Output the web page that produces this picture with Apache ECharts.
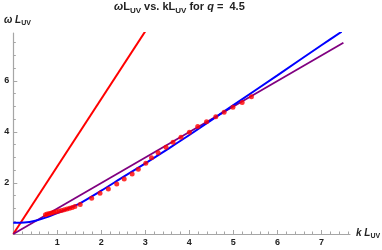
<!DOCTYPE html>
<html>
<head>
<meta charset="utf-8">
<script src="https://cdn.jsdelivr.net/npm/echarts@6/dist/echarts.min.js"></script>
<style>html,body{margin:0;padding:0;background:#fff}#c{width:382px;height:250px}</style>
</head>
<body>
<div id="c"></div>
<script>
// ---- data ----
const xTickValues = [1, 2, 3, 4, 5, 6, 7];
const yTickValues = [2, 4, 6];
const redLineX = [0, 3.0];
const redLineY = [0, 7.95];
const purpleLineX = [0, 7.5];
const purpleLineY = [0, 7.5];
const blueX = [0, 0.25, 0.5, 0.75, 1.0, 1.25, 1.5, 2.0, 2.5, 3.0, 3.5, 4.0, 5.0, 6.0, 7.0, 7.46];
const blueY = [0.44, 0.45, 0.52, 0.65, 0.82, 1.0, 1.19, 1.70, 2.24, 2.77, 3.32, 3.88, 5.05, 6.22, 7.40, 7.93];
const dotX = [0.73, 0.77, 0.82, 0.87, 0.92, 0.98, 1.04, 1.10, 1.16, 1.22, 1.28, 1.34, 1.40, 1.52, 1.78, 1.97, 2.16, 2.35, 2.52, 2.70, 2.84, 3.01, 3.14, 3.29, 3.47, 3.63, 3.81, 4.00, 4.19, 4.39, 4.60, 4.79, 4.99, 5.20, 5.41];
const dotY = [0.75, 0.78, 0.80, 0.82, 0.85, 0.87, 0.90, 0.92, 0.95, 0.98, 1.01, 1.04, 1.08, 1.16, 1.40, 1.60, 1.76, 1.96, 2.16, 2.35, 2.54, 2.77, 2.99, 3.19, 3.40, 3.60, 3.79, 3.99, 4.21, 4.40, 4.60, 4.77, 4.97, 5.16, 5.38];

const zip = (a, b) => a.map((v, i) => [v, b[i]]);
const FONT = 'Liberation Sans, Arial, sans-serif';
const axisGray = '#a6a6a6';

const chart = echarts.init(document.getElementById('c'), null, {renderer: 'canvas'});
const richTitle = {
  b: {fontFamily: FONT, fontSize: 11, fontWeight: 'bold', color: '#222', lineHeight: 14, verticalAlign: 'top'},
  i: {fontFamily: FONT, fontSize: 11, fontWeight: 'bold', fontStyle: 'italic', color: '#222', lineHeight: 14, verticalAlign: 'top'},
  s: {fontFamily: FONT, fontSize: 8, fontWeight: 'bold', color: '#222', lineHeight: 14, verticalAlign: 'top', padding: [6, 0, 0, 0]}
};
const richAxis = {
  b: {fontFamily: FONT, fontSize: 10, fontWeight: 'bold', color: '#222', lineHeight: 13, verticalAlign: 'top'},
  i: {fontFamily: FONT, fontSize: 10, fontWeight: 'bold', fontStyle: 'italic', color: '#222', lineHeight: 13, verticalAlign: 'top'},
  s: {fontFamily: FONT, fontSize: 7, fontWeight: 'bold', color: '#222', lineHeight: 13, verticalAlign: 'top', padding: [5, 0, 0, 0]}
};

chart.setOption({
  animation: false,
  backgroundColor: '#fff',
  title: [
    {text: '{i|ω}{b|L}{s|UV}{b| vs. kL}{s|UV}{b| for }{i|q}{b| =  4.5}', left: 114, top: 1, padding: 0, textStyle: {rich: richTitle}},
    {text: '{i|ω L}{s|UV}', left: 4, top: 15, padding: 0, textStyle: {rich: richAxis}},
    {text: '{i|k L}{s|UV}', left: 356, top: 228, padding: 0, textStyle: {rich: richAxis}}
  ],
  grid: {left: 13.3, right: 32, top: 33, bottom: 16, containLabel: false, outerBoundsMode: 'none'},
  xAxis: {
    type: 'value', min: 0, max: 7.65, interval: 1,
    axisLine: {onZero: true, lineStyle: {color: axisGray, width: 1.2}},
    axisTick: {inside: true, length: 4, customValues: xTickValues, lineStyle: {color: axisGray}},
    minorTick: {show: true, splitNumber: 5, length: 2.5, lineStyle: {color: axisGray}},
    axisLabel: {customValues: xTickValues, margin: 4, fontFamily: FONT, fontSize: 9, fontWeight: 'bold', color: '#222'},
    splitLine: {show: false}
  },
  yAxis: {
    type: 'value', min: 0, max: 7.88, interval: 2,
    axisLine: {onZero: true, lineStyle: {color: axisGray, width: 1.2}},
    axisTick: {inside: true, length: 4, customValues: yTickValues, lineStyle: {color: axisGray}},
    minorTick: {show: true, splitNumber: 4, length: 2.5, lineStyle: {color: axisGray}},
    axisLabel: {customValues: yTickValues, margin: 4, fontFamily: FONT, fontSize: 9, fontWeight: 'bold', color: '#222'},
    splitLine: {show: false}
  },
  series: [
    {type: 'line', data: zip(redLineX, redLineY), showSymbol: false, lineStyle: {color: '#ff0000', width: 2}, clip: true, z: 2},
    {type: 'line', data: zip(purpleLineX, purpleLineY), showSymbol: false, lineStyle: {color: '#800080', width: 1.8}, clip: true, z: 2},
    {type: 'line', data: zip(blueX, blueY), showSymbol: false, smooth: 0.3, lineStyle: {color: '#0000ff', width: 2}, clip: true, z: 3},
    {type: 'scatter', data: zip(dotX, dotY), symbolSize: 5, itemStyle: {color: '#ff0000'}, z: 4}
  ]
});
</script>
</body>
</html>
